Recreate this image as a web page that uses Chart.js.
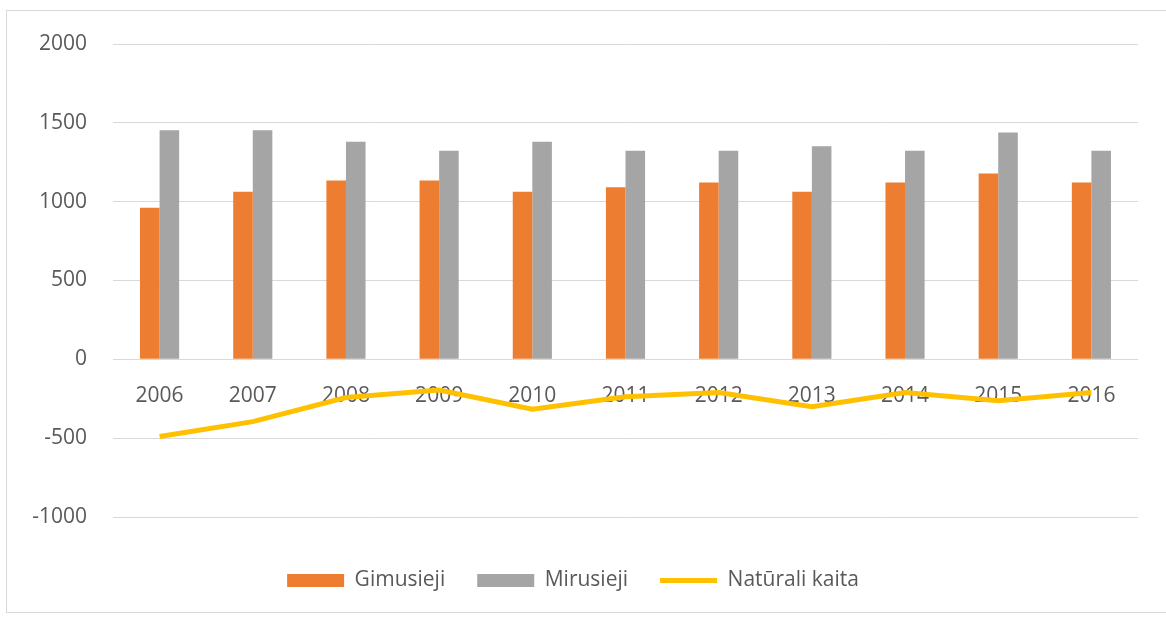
<!DOCTYPE html>
<html>
<head>
<meta charset="utf-8">
<script src="https://cdn.jsdelivr.net/npm/chart.js@4/dist/chart.umd.min.js"></script>
<style>
  html, body { margin: 0; padding: 0; background: #fff; overflow: hidden; }
  #wrap { position: relative; width: 1166px; height: 617px; }
  #frame {
    position: absolute; left: 6px; top: 10px; width: 1200px; height: 601px;
    border: 1px solid #d9d9d9; pointer-events: none;
  }
</style>
</head>
<body>
<div id="wrap">
  <canvas id="chart"></canvas>
  <div id="frame"></div>
</div>
<script>
// data
const years = ['2006', '2007', '2008', '2009', '2010', '2011', '2012', '2013', '2014', '2015', '2016'];
const births = [962, 1063, 1135, 1135, 1063, 1092, 1122, 1063, 1122, 1179, 1122];
const deaths = [1453, 1453, 1380, 1323, 1380, 1323, 1323, 1352, 1323, 1439, 1323];
const naturalChange = [-490, -395, -242, -195, -316, -238, -210, -300, -210, -262, -210];

const textColor = '#595959';
const gridColor = '#d9d9d9';
const fontFamily = '"Open Sans", "Noto Sans", sans-serif';

const ctx = document.getElementById('chart').getContext('2d');

// legend: bars as rectangles, the line as a thick line
const makeLegendLabels = chart => {
  const items = Chart.defaults.plugins.legend.labels.generateLabels(chart);
  items.forEach(item => {
    const ds = chart.data.datasets[item.datasetIndex];
    if (ds.type === 'line') {
      item.pointStyle = 'line';
      item.lineWidth = 5;
      item.strokeStyle = ds.borderColor;
    } else {
      item.pointStyle = 'rect';
      item.lineWidth = 0;
    }
  });
  return items;
};

new Chart(ctx, {
  type: 'bar',
  data: {
    labels: years,
    datasets: [
      {
        label: 'Gimusieji',
        data: births,
        backgroundColor: '#ED7D31',
        borderWidth: 0,
        categoryPercentage: 0.42,
        barPercentage: 1,
      },
      {
        label: 'Mirusieji',
        data: deaths,
        backgroundColor: '#A5A5A5',
        borderWidth: 0,
        categoryPercentage: 0.42,
        barPercentage: 1,
      },
      {
        type: 'line',
        label: 'Natūrali kaita',
        data: naturalChange,
        borderColor: '#FFC000',
        backgroundColor: '#FFC000',
        borderWidth: 5,
        pointRadius: 0,
        tension: 0,
        fill: false,
      },
    ],
  },
  options: {
    responsive: true,
    maintainAspectRatio: false,
    animation: false,
    layout: { padding: { left: 8, right: 28, top: 44, bottom: 16 } },
    scales: {
      x: {
        position: { y: 0 },
        grid: { display: false },
        border: { display: false },
        ticks: {
          color: textColor,
          font: { family: fontFamily, size: 21 },
          padding: 16,
          maxRotation: 0,
        },
      },
      // empty axis, only keeps room between plot and legend
      pad: {
        axis: 'x',
        type: 'category',
        position: 'bottom',
        grid: { display: false },
        border: { display: false },
        ticks: { display: false },
        afterFit: s => { s.height = 21; },
      },
      y: {
        min: -1000,
        max: 2000,
        grid: { color: gridColor, lineWidth: 1, drawTicks: false },
        border: { display: false },
        ticks: {
          stepSize: 500,
          color: textColor,
          font: { family: fontFamily, size: 21 },
          padding: 26,
          callback: v => String(v),
        },
        afterFit: s => { s.width = 105; },
      },
    },
    plugins: {
      tooltip: { enabled: false },
      legend: {
        position: 'bottom',
        labels: {
          color: textColor,
          font: { family: fontFamily, size: 21 },
          usePointStyle: true,
          pointStyleWidth: 57,
          boxHeight: 13,
          padding: 32,
          generateLabels: makeLegendLabels,
        },
      },
    },
  },
});
</script>
</body>
</html>
